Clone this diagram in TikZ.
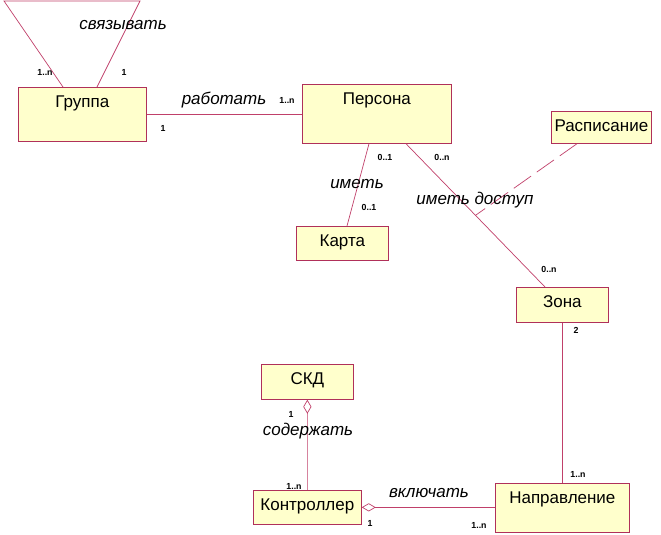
\documentclass[tikz,border=0pt]{standalone}
\usepackage{fontspec}
\setmainfont{Liberation Sans}
\usetikzlibrary{arrows.meta,calc}
\definecolor{clsfill}{HTML}{FFFFCC}
\definecolor{clsedge}{HTML}{B0305A}
\definecolor{assoc}{HTML}{C0406A}

\begin{document}
\begin{tikzpicture}[x=0.03cm,y=-0.03cm,
  cls/.style={draw=clsedge,fill=clsfill,semithick,anchor=north west,inner sep=0pt},
  nm/.style={font=\fontsize{14.5}{16}\selectfont,anchor=north,yshift=-4pt},
  rel/.style={font=\fontsize{14.5}{16}\selectfont\itshape},
  mult/.style={font=\fontsize{7.5}{8}\selectfont\bfseries},
  asc/.style={draw=assoc,semithick},
  agg/.style={asc,{Diamond[open,length=12pt,width=7pt]}-},
  dep/.style={asc,dash pattern=on 18pt off 6pt},
]
\useasboundingbox (0,0) rectangle (661,535);
% classes
\node[cls,minimum width=3.84cm,minimum height=1.62cm,label={[nm]north:Группа}] (grp) at (18,87) {};
\node[cls,minimum width=4.47cm,minimum height=1.77cm,label={[nm]north:Персона}] (per) at (302,84) {};
\node[cls,minimum width=2.76cm,minimum height=1.02cm,label={[nm]north:Карта}] (krt) at (296,226) {};
\node[cls,minimum width=3.0cm,minimum height=0.96cm,label={[nm]north:Расписание}] (rsp) at (551,111) {};
\node[cls,minimum width=2.76cm,minimum height=1.05cm,label={[nm]north:Зона}] (zon) at (516,287) {};
\node[cls,minimum width=2.76cm,minimum height=1.05cm,label={[nm]north:СКД}] (skd) at (261,364) {};
\node[cls,minimum width=3.24cm,minimum height=1.02cm,label={[nm]north:Контроллер}] (ktr) at (253,490) {};
\node[cls,minimum width=4.02cm,minimum height=1.47cm,label={[nm]north:Направление}] (npr) at (495,483) {};
% self association
\coordinate (lpl) at (4,1);
\coordinate (lpr) at (140,1);
\draw[asc] ($(grp.north west)+(45,0)$) -- (lpl) -- (lpr) -- ($(grp.north west)+(79,0)$);
\node[rel] at (123,25) {связывать};
\node[mult] at (45,72) {1..n};
\node[mult] at (124,72) {1};
% associations
\draw[asc] (grp.east) -- (per.west |- grp.east);
\node[rel] at (224,100) {работать};
\node[mult] at (287,100) {1..n};
\node[mult] at (163,128) {1};
\draw[asc] ($(per.south west)+(67,0)$) -- ($(krt.north west)+(51,0)$);
\node[rel] at (357,184) {иметь};
\node[mult] at (385,157) {0..1};
\node[mult] at (369,207) {0..1};
\draw[asc] ($(per.south west)+(104,0)$) -- coordinate[midway] (acc) ($(zon.north west)+(29,0)$);
\draw[dep] ($(rsp.south west)+(26,0)$) -- (acc);
\node[rel] at (475,200) {иметь доступ};
\node[mult] at (442,157) {0..n};
\node[mult] at (549,269) {0..n};
\draw[asc] (zon.south) -- (zon.south |- npr.north);
\node[mult] at (576,330) {2};
\node[mult] at (578,474) {1..n};
% aggregations
\draw[agg] (skd.south) -- (ktr.north);
\node[mult] at (291,414) {1};
\node[rel] at (308,431) {содержать};
\node[mult] at (294,486) {1..n};
\draw[agg] (ktr.east) -- (ktr.east -| npr.west);
\node[rel] at (429,493) {включать};
\node[mult] at (370,523) {1};
\node[mult] at (479,525) {1..n};
\end{tikzpicture}
\end{document}
